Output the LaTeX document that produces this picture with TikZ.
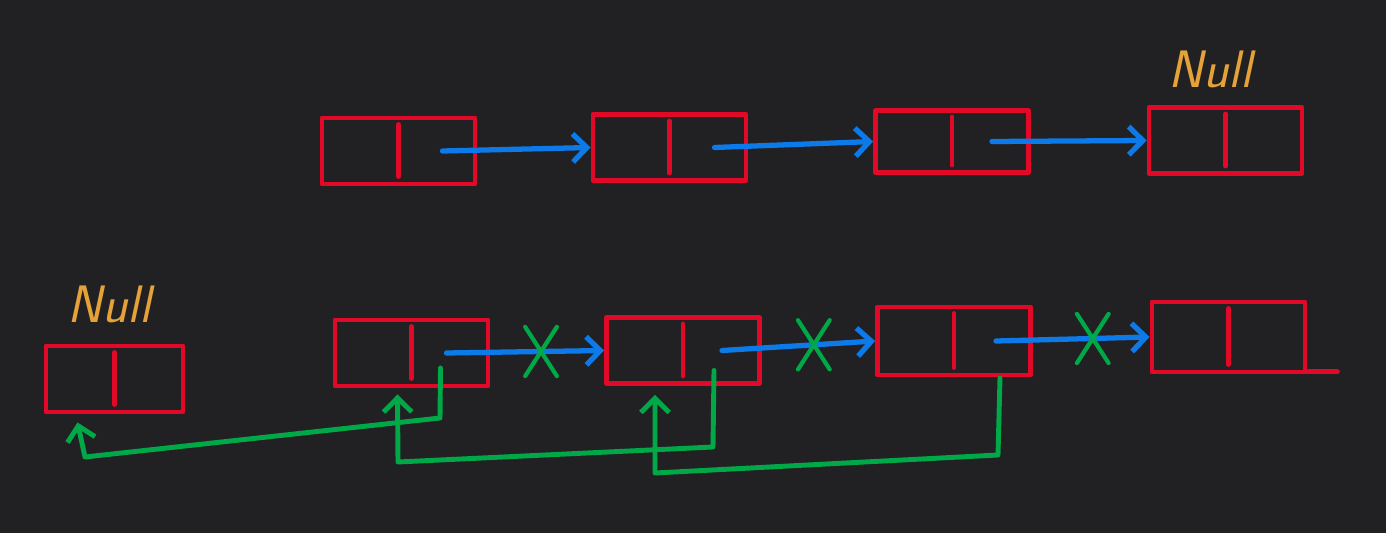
\documentclass[tikz,border=0pt]{standalone}
\usepackage{amsmath}
\usepackage{pgf,tikz}
\usetikzlibrary{arrows.meta}
\usetikzlibrary{positioning}
\usetikzlibrary{shapes.misc}

\definecolor{board}{RGB}{33,33,35}
\definecolor{penred}{RGB}{226,8,40}
\definecolor{penblue}{RGB}{12,122,232}
\definecolor{pengreen}{RGB}{0,168,72}
\definecolor{penorange}{RGB}{228,162,56}

\tikzset{
  cell/.style={draw=penred, line width=2.8pt, rectangle, inner sep=0pt,
    minimum width=3.06cm, minimum height=1.32cm},
  wall/.style={draw=penred, line width=2.8pt},
  link/.style={draw=penblue, line width=3pt, ->},
  back/.style={draw=pengreen, line width=2.8pt, ->},
  cut/.style={draw=pengreen, line width=2.4pt, cross out, inner sep=0pt,
    minimum width=0.55cm, minimum height=0.9cm},
  nulltext/.style={text=penorange, inner sep=0pt,
    font=\fontsize{30}{30}\selectfont\sffamily\slshape}
}

\begin{document}
\begin{tikzpicture}[line cap=round,line join=round,>={Straight Barb[length=8pt,width=16pt]},x=0.02cm,y=-0.02cm]
\fill[board] (0,0) rectangle (1386,533);
\useasboundingbox (0,0) rectangle (1386,533);
% upper list
\node[cell] (t1) at (398.5,151) {};
\node[cell] (t2) at (669.5,147.5) {};
\node[cell, minimum height=1.24cm] (t3) at (952,141.5) {};
\node[cell] (t4) at (1225.5,140.5) {};
\node[nulltext, above=0.34cm of t4, xshift=-0.3cm] (nullr) {Null};
% lower list
\node[cell, minimum width=2.74cm] (n) at (114.5,379) {};
\node[cell] (b1) at (411.5,353) {};
\node[cell] (b2) at (683,350.5) {};
\node[cell, minimum height=1.36cm] (b3) at (954,341) {};
\node[cell, minimum height=1.4cm] (b4) at (1228.5,337) {};
\node[nulltext, above=0.4cm of n, xshift=-0.1cm] (nulll) {Null};
%
\foreach \c in {t1,t2,t3,t4,n,b1,b2,b3,b4}
  \draw[wall] ([yshift=-0.18cm]\c.north) -- ([yshift=0.2cm]\c.south);
\draw[wall] ([shift={(-3,-2.5)}]b4.south east) -- ++(33,0);
% next pointers
\draw[link] ([xshift=0.88cm]t1.center) -- (t2.west);
\draw[link] ([xshift=0.9cm]t2.center) -- (t3.west);
\draw[link] ([xshift=0.8cm]t3.center) -- (t4.west);
\draw[link] ([xshift=0.7cm]b1.center) -- node[cut, pos=0.6] (x1) {} (b2.west);
\draw[link] ([xshift=0.78cm]b2.center) -- node[cut, pos=0.6] (x2) {} (b3.west);
\draw[link] ([xshift=0.84cm]b3.center) -- node[cut, pos=0.63] (x3) {} (b4.west);
% reversed pointers
\draw[back] ([shift={(29,15)}]b1.center) -- (440,418) -- (85,457) -- ([shift={(34,8)}]n.south west);
\draw[back] ([shift={(31,20)}]b2.center) -- (713,447) -- (398,462) -- ([shift={(-14,6)}]b1.south);
\draw[back] ([shift={(46,37)}]b3.center) -- (998,455) -- (655,473) -- ([shift={(-28,9)}]b2.south);
\end{tikzpicture}
\end{document}
